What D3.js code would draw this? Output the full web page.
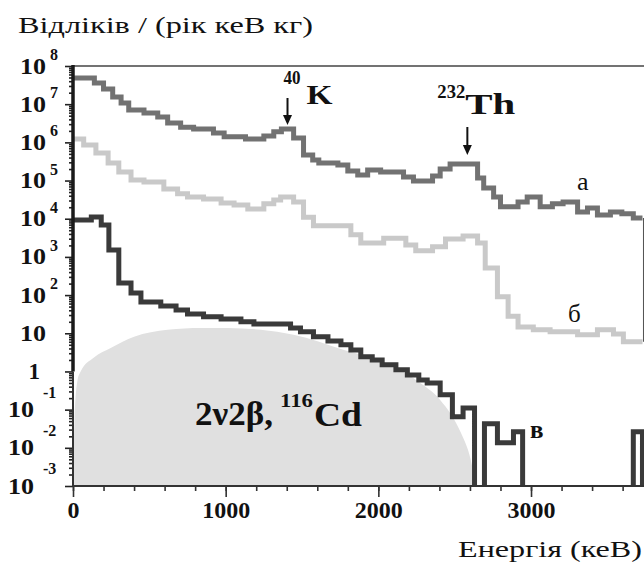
<!DOCTYPE html>
<html><head><meta charset="utf-8">
<script src="https://cdn.jsdelivr.net/npm/d3@7"></script>
<style>
html,body{margin:0;padding:0;background:#fff;}
svg{display:block;}
text{font-family:"Liberation Serif","Times New Roman",serif;fill:#111;}
</style></head><body>
<svg id="chart" width="644" height="565"></svg>
<script>
// ---------- data ----------
const energyDomain = [0, 3740];
const seriesEnd = 3730;
const xMajorTicks = [0, 1000, 2000, 3000];
const xMinorStep = 200;
const yExponents = [8, 7, 6, 5, 4, 3, 2, 1, 0, -1, -2, -3];

// curve "а" (бінові межі, кеВ; відліки)
const aEnergy = [0,140,200,260,315,365,465,555,620,705,790,920,990,1130,1250,1315,1365,1445,1510,1570,1610,1735,1800,1865,1930,2015,2165,2230,2355,2405,2470,2650,2690,2755,2800,2915,2975,3060,3140,3210,3305,3370,3435,3520,3595,3670];
const aCounts = [4.85e7,3.6e7,2.5e7,1.55e7,1.07e7,7.0e6,5.9e6,4.6e6,3.2e6,2.5e6,2.25e6,1.75e6,1.4e6,1.23e6,1.47e6,1.9e6,2.24e6,1.3e6,4.7e5,3.46e5,2.9e5,2.56e5,1.78e5,1.4e5,1.89e5,1.68e5,1.24e5,9.8e4,1.32e5,2.0e5,2.72e5,1.17e5,6.4e4,3.7e4,2.05e4,2.75e4,3.7e4,2.05e4,2.45e4,2.75e4,1.5e4,1.9e4,1.26e4,1.5e4,1.34e4,1.05e4];

// curve "б"
const bEnergy = [0,70,150,230,300,380,465,595,685,750,855,970,1055,1145,1250,1315,1360,1445,1510,1575,1820,1885,2035,2180,2245,2355,2440,2555,2650,2700,2780,2850,2915,3015,3125,3305,3435,3540,3605];
const bCounts = [1.23e6,8.5e5,5.3e5,2.9e5,1.68e5,1.04e5,9.2e4,6.0e4,4.5e4,3.7e4,3.3e4,2.6e4,2.3e4,1.8e4,2.45e4,3.1e4,3.7e4,2.75e4,1.1e4,6.5e3,3.8e3,2.3e3,3.1e3,2.05e3,1.45e3,1.85e3,2.95e3,3.55e3,2.3e3,515,90,28,14.7,12.3,10.9,9.1,12.3,9.6,6.0];

// curve "в"
const vEnergy = [0,120,185,235,300,380,445,575,675,750,855,970,1100,1185,1425,1490,1575,1670,1755,1820,1885,1960,2025,2115,2190,2265,2320,2405,2485,2555,2630,2695,2780,2885,2945,3670];
const vCounts = [9.3e3,1.11e4,6.9e3,1.52e3,208,114,66,52,41,32,27,23.8,19.9,17.6,13.8,10.9,8.05,6.3,5.0,3.67,2.41,2.01,1.49,1.10,0.81,0.60,0.50,0.244,0.065,0.111,0,0.0425,0.0135,0.0262,0,0.0262];

// 2ν2β 116Cd spectrum (shaded)
const cdEnergy = [0,10,30,50,135,250,400,620,840,1015,1230,1445,1770,2080,2275,2405,2540,2605,2640];
const cdCounts = [0.001,0.054,0.6,1.0,2.3,4.2,8.1,12.3,13.8,13.8,12.3,9.1,3.7,1.48,0.50,0.18,0.025,0.0049,0.001];

const peakEnergies = [1405, 2583];

// ---------- chart ----------
const svg = d3.select("#chart");
const L = 73, R = 644, T = 66, B = 486;
const x = d3.scaleLinear().domain(energyDomain).range([L, R]);
const y = d3.scaleLog().domain([1e-3, 1e8]).range([B, T]);
const yv = v => v > 0 ? y(v) : B + 6;

svg.append("defs").append("clipPath").attr("id","plotclip")
  .append("rect").attr("x", L).attr("y", T - 10).attr("width", R - L).attr("height", B - T + 10);

const plot = svg.append("g").attr("clip-path","url(#plotclip)");

// shaded area
const cdPts = cdEnergy.map((e,i)=>[e, cdCounts[i]]);
plot.append("path").datum(cdPts)
  .attr("fill","#e0e0e0")
  .attr("d", d3.area().x(d=>x(d[0])).y0(B).y1(d=>y(d[1])).curve(d3.curveMonotoneX));

function stepPts(en, ct){
  const p = en.map((e,i)=>[e, ct[i]]);
  p.push([seriesEnd, ct[ct.length-1]]);
  return p;
}
const stepLine = d3.line().x(d=>x(d[0])).y(d=>yv(d[1])).curve(d3.curveStepAfter);

const series = [
  {pts: stepPts(bEnergy,bCounts), color:"#c9c9c9"},
  {pts: stepPts(aEnergy,aCounts), color:"#727272"},
  {pts: stepPts(vEnergy,vCounts).concat([[seriesEnd, 0]]), color:"#3a3a3a"}
];
series.forEach(s=>{
  plot.append("path").datum(s.pts)
    .attr("fill","none").attr("stroke", s.color).attr("stroke-width",5)
    .attr("stroke-linejoin","miter").attr("d", stepLine);
});
// end drop of curve а
plot.append("line")
  .attr("x1", x(seriesEnd)+1.5).attr("x2", x(seriesEnd)+1.5)
  .attr("y1", y(aCounts[aCounts.length-1])).attr("y2", y(bCounts[bCounts.length-1]))
  .attr("stroke","#555").attr("stroke-width",2);

// top frame
svg.append("line").attr("x1",L).attr("x2",R).attr("y1",T).attr("y2",T)
  .attr("stroke","#444").attr("stroke-width",1.5);

// y axis
const majors = yExponents.map(e=>Math.pow(10,e));
const minors = [];
for (let e=-3; e<8; e++) for (let k=2;k<=9;k++) minors.push(k*Math.pow(10,e));
const yMaj = svg.append("g").attr("transform",`translate(${L},0)`)
  .call(d3.axisLeft(y).tickValues(majors).tickSize(8).tickFormat(""));
const yMin = svg.append("g").attr("transform",`translate(${L},0)`)
  .call(d3.axisLeft(y).tickValues(minors).tickSize(4).tickFormat(""));
[yMaj,yMin].forEach(g=>{g.select(".domain").remove(); g.selectAll("line").attr("stroke","#222").attr("stroke-width",1.6);});
svg.append("line").attr("x1",L).attr("x2",L).attr("y1",T-1).attr("y2",y(1))
  .attr("stroke","#1a1a1a").attr("stroke-width",3.5);
svg.append("line").attr("x1",L).attr("x2",L).attr("y1",y(1)).attr("y2",B)
  .attr("stroke","#333").attr("stroke-width",2);

// y tick labels
function ten(xEnd, yy){
  svg.append("text").attr("x",xEnd-26).attr("y",yy+7.5)
    .attr("font-size",23).attr("font-weight","bold")
    .attr("textLength",26).attr("lengthAdjust","spacingAndGlyphs").text("10");
}
yExponents.forEach(e=>{
  const yy = y(Math.pow(10,e));
  if (e >= 2) {
    ten(46, yy);
    svg.append("text").attr("x",50).attr("y",yy-6)
      .attr("font-size",16).attr("font-weight","bold").text(String(e));
  } else if (e === 1) {
    ten(46, yy);
  } else if (e === 0) {
    svg.append("text").attr("x",40).attr("y",yy+7.5).attr("text-anchor","end")
      .attr("font-size",23).attr("font-weight","bold").text("1");
  } else {
    ten(34, yy);
    svg.append("text").attr("x",43).attr("y",yy-12)
      .attr("font-size",16).attr("font-weight","bold").text(String(e));
  }
});

// x axis
const xMin = svg.append("g").attr("transform",`translate(0,${B})`)
  .call(d3.axisBottom(x).tickValues(d3.range(0, energyDomain[1], xMinorStep)).tickSize(5).tickFormat(""));
const xMaj = svg.append("g").attr("transform",`translate(0,${B})`)
  .call(d3.axisBottom(x).tickValues(xMajorTicks).tickSize(11).tickPadding(8).tickFormat(d3.format("d")));
[xMin,xMaj].forEach(g=>{g.select(".domain").remove(); g.selectAll("line").attr("stroke","#333").attr("stroke-width",1.6);});
xMaj.selectAll("text").attr("font-family","'Liberation Serif',serif").attr("font-size",24)
  .attr("font-weight","bold").attr("fill","#111").attr("dy","0.55em");
svg.append("line").attr("x1",L).attr("x2",R).attr("y1",B).attr("y2",B)
  .attr("stroke","#333").attr("stroke-width",2);

// axis titles
svg.append("text").attr("x",18).attr("y",33).attr("font-size",24)
  .attr("textLength",295).attr("lengthAdjust","spacingAndGlyphs").text("Відліків / (рік кеВ кг)");
svg.append("text").attr("x",458).attr("y",557).attr("font-size",23)
  .attr("textLength",184).attr("lengthAdjust","spacingAndGlyphs").text("Енергія (кеВ)");

// peak annotations
function arrow(xp, y1, y2){
  svg.append("line").attr("x1",xp).attr("x2",xp).attr("y1",y1).attr("y2",y2-8)
    .attr("stroke","#111").attr("stroke-width",2);
  svg.append("path").attr("d",`M${xp-4.5},${y2-10}L${xp+4.5},${y2-10}L${xp},${y2}Z`).attr("fill","#111");
}
const kx = x(peakEnergies[0]), thx = x(peakEnergies[1]);
arrow(kx, 98, 125);
svg.append("text").attr("x",kx-4).attr("y",84).attr("font-size",19).attr("font-weight","bold")
  .attr("textLength",17).attr("lengthAdjust","spacingAndGlyphs").text("40");
svg.append("text").attr("x",kx+19).attr("y",104).attr("font-size",28).attr("font-weight","bold")
  .attr("textLength",26).attr("lengthAdjust","spacingAndGlyphs").text("K");
arrow(thx, 127, 155);
svg.append("text").attr("x",thx-30).attr("y",98).attr("font-size",19).attr("font-weight","bold")
  .attr("textLength",28).attr("lengthAdjust","spacingAndGlyphs").text("232");
svg.append("text").attr("x",thx-2).attr("y",114).attr("font-size",30).attr("font-weight","bold")
  .attr("textLength",50).attr("lengthAdjust","spacingAndGlyphs").text("Th");

// series labels
svg.append("text").attr("x",577).attr("y",190).attr("font-size",26).text("а");
svg.append("text").attr("x",568).attr("y",322).attr("font-size",25).text("б");
svg.append("text").attr("x",530).attr("y",438).attr("font-size",25).attr("font-weight","bold").text("в");

// 2ν2β label
svg.append("text").attr("x",195).attr("y",425).attr("font-size",34).attr("font-weight","bold")
  .attr("textLength",78).attr("lengthAdjust","spacingAndGlyphs").text("2ν2β,");
svg.append("text").attr("x",280).attr("y",407).attr("font-size",19).attr("font-weight","bold")
  .attr("textLength",33).attr("lengthAdjust","spacingAndGlyphs").text("116");
svg.append("text").attr("x",314).attr("y",426).attr("font-size",34).attr("font-weight","bold")
  .attr("textLength",48).attr("lengthAdjust","spacingAndGlyphs").text("Cd");
</script>
</body></html>
